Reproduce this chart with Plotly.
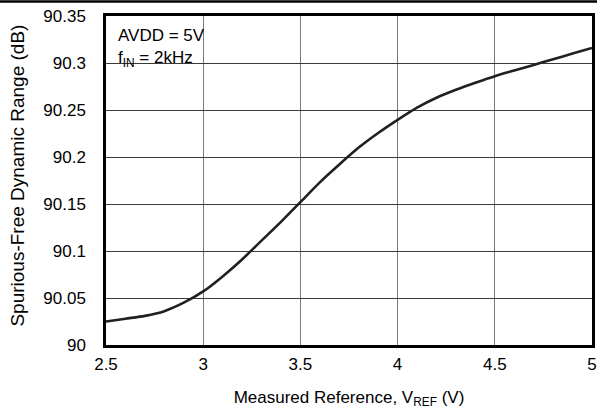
import plotly.graph_objects as go

# Measured reference voltage (V) vs SFDR (dB)
vref = [2.5, 2.6, 2.7, 2.8, 2.9, 3.0, 3.1, 3.2, 3.3, 3.4, 3.5, 3.6, 3.7,
        3.8, 3.9, 4.0, 4.1, 4.2, 4.3, 4.4, 4.5, 4.6, 4.7, 4.8, 4.9, 5.0]
sfdr = [90.025, 90.028, 90.031, 90.036, 90.045, 90.057, 90.073, 90.091,
        90.111, 90.131, 90.152, 90.173, 90.192, 90.210, 90.2255, 90.2395,
        90.2525, 90.263, 90.2715, 90.279, 90.286, 90.292, 90.298, 90.304,
        90.310, 90.316]

x_ticks = [2.5, 3, 3.5, 4, 4.5, 5]
x_labels = ["2.5", "3", "3.5", "4", "4.5", "5"]
y_ticks = [90, 90.05, 90.1, 90.15, 90.2, 90.25, 90.3, 90.35]
y_labels = ["90", "90.05", "90.1", "90.15", "90.2", "90.25", "90.3", "90.35"]

FONT = "Liberation Sans, Arial, sans-serif"

fig = go.Figure()

fig.add_trace(
    go.Scatter(
        x=vref,
        y=sfdr,
        mode="lines",
        line=dict(color="#231f20", width=2.6, shape="spline", smoothing=0.8),
        showlegend=False,
        hoverinfo="skip"
    )
)

# white box behind the conditions note
fig.add_shape(
    type="rect", xref="paper", yref="paper",
    x0=0, x1=0.224, y0=0.8207, y1=1,
    fillcolor="white", line_width=0, layer="between"
)

# rule across the top of the page
fig.add_shape(
    type="line", xref="paper", yref="paper",
    x0=-0.22, x1=1.02, y0=1.0441, y1=1.0441,
    line=dict(color="black", width=2.5)
)

fig.add_annotation(
    xref="paper", yref="paper",
    x=0.0206, y=0.975,
    xanchor="left", yanchor="top",
    align="left", showarrow=False,
    text="AVDD = 5V<br>f<sub>IN</sub> = 2kHz",
    font=dict(family=FONT, size=17, color="black")
)

# y axis title, placed by hand
fig.add_annotation(
    xref="paper", yref="paper",
    x=-0.181, y=0.515,
    xanchor="center", yanchor="middle",
    textangle=-90, showarrow=False,
    text="Spurious-Free Dynamic Range (dB)",
    font=dict(family=FONT, size=19, color="black")
)

fig.update_xaxes(
    range=[2.5, 5],
    tickvals=x_ticks,
    ticktext=x_labels,
    ticks="",
    ticklabelstandoff=2,
    ticklabeloverflow="allow",
    showgrid=True,
    gridcolor="#7a7a7a",
    gridwidth=1,
    showline=True,
    linecolor="black",
    linewidth=2.5,
    mirror=True,
    zeroline=False,
    title=dict(text="Measured Reference, V<sub>REF</sub> (V)",
               font=dict(family=FONT, size=17, color="black"), standoff=18),
    tickfont=dict(family=FONT, size=17, color="black")
)

fig.update_yaxes(
    range=[90, 90.35],
    tickvals=y_ticks,
    ticktext=y_labels,
    ticks="",
    ticklabelstandoff=14,
    showgrid=True,
    gridcolor="#3a3a3a",
    gridwidth=1,
    showline=True,
    linecolor="black",
    linewidth=2.5,
    mirror=True,
    zeroline=False,
    tickfont=dict(family=FONT, size=17, color="black")
)

fig.update_layout(
    width=597,
    height=410,
    margin=dict(l=106, r=5, t=16, b=65, autoexpand=False),
    plot_bgcolor="white",
    paper_bgcolor="white",
    font=dict(family=FONT, color="black")
)

fig.write_html(
    "out.html",
    config={"displayModeBar": False},
    post_script="document.body.style.margin='0';"
)
